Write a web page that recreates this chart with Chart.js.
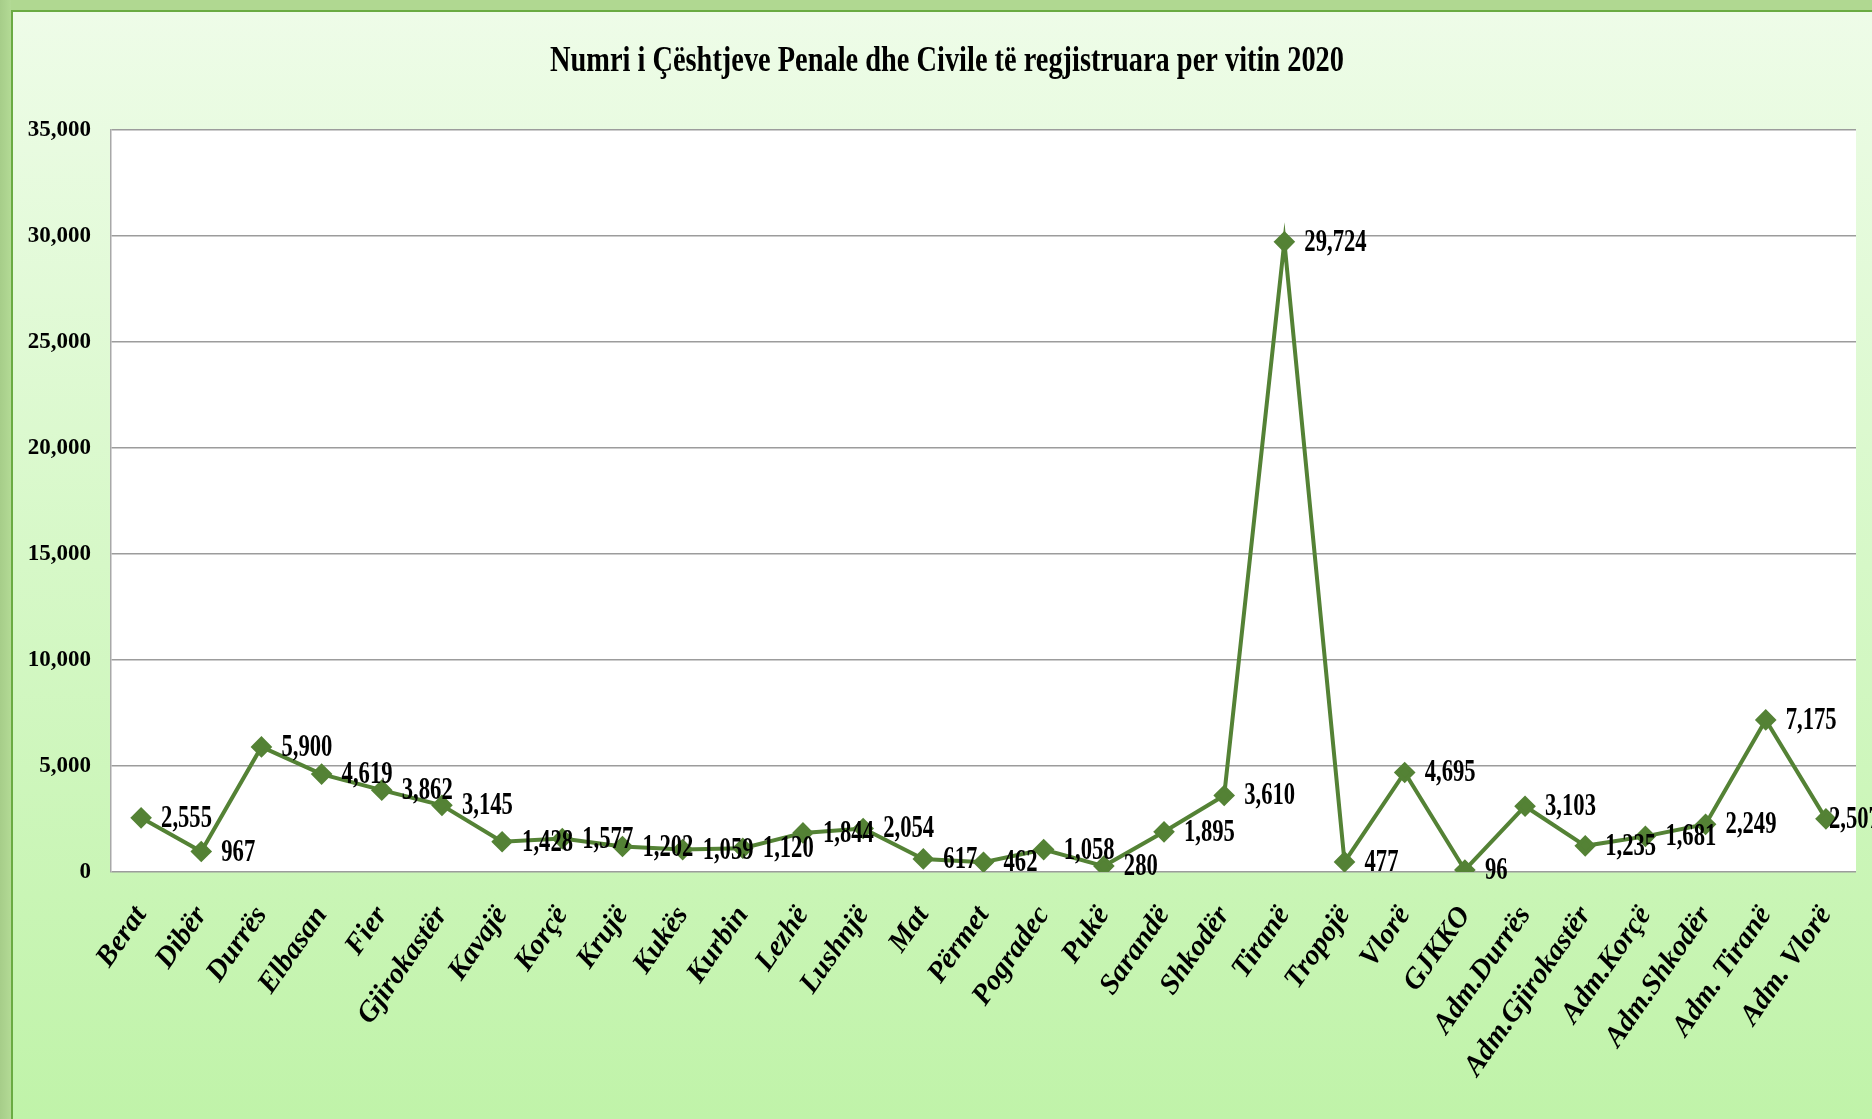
<!DOCTYPE html>
<html>
<head>
<meta charset="utf-8">
<script src="https://cdn.jsdelivr.net/npm/chart.js@4.4.1/dist/chart.umd.min.js"></script>
<style>
    html, body { margin: 0; padding: 0; }
    body {
        width: 1872px;
        height: 1119px;
        overflow: hidden;
        background: linear-gradient(to right, #a6cd89, #b3da95 11px);
        position: relative;
    }
    #frame {
        position: absolute;
        left: 11px;
        top: 0;
        right: 0;
        bottom: 0;
        border-top: 10px solid #b0d891;
        box-sizing: border-box;
    }
    #inner {
        position: absolute;
        left: 0;
        top: 0;
        right: 0;
        bottom: 0;
        border-left: 2px solid #6aab42;
        border-top: 2px solid #6aab42;
        background: linear-gradient(to bottom, #eefce8, #d6f8c7 50%, #c0f3a9);
    }
    #chart-wrap {
        position: absolute;
        left: 0;
        top: 0;
        width: 1872px;
        height: 1119px;
    }
</style>
</head>
<body>
<div id="frame"><div id="inner"></div></div>
<div id="chart-wrap"><canvas id="cases-chart" width="1872" height="1119"></canvas></div>
<script>
const chartTitle = 'Numri i Çështjeve Penale dhe Civile të regjistruara per vitin 2020';

const courts = [
    'Berat', 'Dibër', 'Durrës', 'Elbasan', 'Fier', 'Gjirokastër', 'Kavajë', 'Korçë',
    'Krujë', 'Kukës', 'Kurbin', 'Lezhë', 'Lushnjë', 'Mat', 'Përmet', 'Pogradec',
    'Pukë', 'Sarandë', 'Shkodër', 'Tiranë', 'Tropojë', 'Vlorë', 'GJKKO',
    'Adm.Durrës', 'Adm.Gjirokastër', 'Adm.Korçë', 'Adm.Shkodër', 'Adm. Tiranë', 'Adm. Vlorë'
];

const registeredCases = [
    2555, 967, 5900, 4619, 3862, 3145, 1428, 1577,
    1202, 1059, 1120, 1844, 2054, 617, 462, 1058,
    280, 1895, 3610, 29724, 477, 4695, 96,
    3103, 1235, 1681, 2249, 7175, 2507
];

const yMin = 0;
const yMax = 35000;
const yStep = 5000;

(function () {
    const lineColor = '#548235';
    const serif = '"Liberation Serif", "Times New Roman", serif';

    function formatNumber(v) {
        return Number(v).toLocaleString('en-US');
    }

    // white plot area like the office chart
    const plotBackground = {
        id: 'plotBackground',
        beforeDraw(chart) {
            const a = chart.chartArea;
            const ctx = chart.ctx;
            ctx.save();
            ctx.fillStyle = '#ffffff';
            ctx.fillRect(a.left, a.top, a.right - a.left, a.bottom - a.top);
            ctx.restore();
        }
    };

    // narrow serif title
    const narrowTitle = {
        id: 'narrowTitle',
        afterDraw(chart) {
            const ctx = chart.ctx;
            ctx.save();
            ctx.font = 'bold 36px ' + serif;
            ctx.fillStyle = '#000000';
            ctx.textAlign = 'center';
            ctx.textBaseline = 'middle';
            const w = ctx.measureText(chartTitle).width;
            const sx = 794 / w;
            ctx.translate(947, 62);
            ctx.scale(sx, 1);
            ctx.fillText(chartTitle, 0, 0);
            ctx.restore();
        }
    };

    // value labels to the right of each point, pushed back in at the right edge
    const valueLabels = {
        id: 'valueLabels',
        afterDatasetsDraw(chart) {
            const ctx = chart.ctx;
            const meta = chart.getDatasetMeta(0);
            const values = chart.data.datasets[0].data;
            ctx.save();
            ctx.font = 'bold 31px ' + serif;
            ctx.fillStyle = '#000000';
            ctx.textAlign = 'left';
            ctx.textBaseline = 'middle';
            meta.data.forEach((pt, i) => {
                var x = Math.min(pt.x + 20, chart.width - 43);
                ctx.save();
                ctx.translate(x, pt.y + 1);
                ctx.scale(0.73, 1);
                ctx.fillText(formatNumber(values[i]), 0, 0);
                ctx.restore();
            });
            ctx.restore();
        }
    };

    function init() {
        const config = {
            type: 'line',
            data: {
                labels: courts,
                datasets: [{
                    label: 'Çështje',
                    data: registeredCases,
                    borderColor: lineColor,
                    backgroundColor: lineColor,
                    borderWidth: 4,
                    pointStyle: 'rectRot',
                    pointRadius: 8,
                    pointHoverRadius: 8,
                    pointBackgroundColor: lineColor,
                    pointBorderColor: lineColor,
                    tension: 0
                }]
            },
            options: {
                responsive: false,
                animation: false,
                layout: {
                    padding: { left: 0, top: 130, right: 16, bottom: 0 }
                },
                plugins: {
                    legend: { display: false },
                    title: { display: false },
                    tooltip: { enabled: false }
                },
                scales: {
                    x: {
                        offset: true,
                        grid: { display: false, drawTicks: false },
                        border: { display: false },
                        ticks: {
                            autoSkip: false,
                            minRotation: 55,
                            maxRotation: 55,
                            padding: 28,
                            color: '#000000',
                            font: { family: serif, size: 29, weight: 'bold', style: 'italic' }
                        },
                        afterFit: function (scale) {
                            scale.height = 247;
                            scale.paddingLeft = 0;
                            scale.paddingRight = 0;
                        }
                    },
                    y: {
                        min: yMin,
                        max: yMax,
                        grid: { color: '#9c9c9c', lineWidth: 1.5, drawTicks: false },
                        border: { display: true, color: '#a8a8a8', width: 1.5 },
                        ticks: {
                            stepSize: yStep,
                            padding: 20,
                            color: '#000000',
                            font: { family: serif, size: 23, weight: 'bold' },
                            callback: formatNumber
                        },
                        afterFit: function (scale) { scale.width = 111; }
                    }
                }
            },
            plugins: [plotBackground, valueLabels, narrowTitle]
        };

        new Chart(document.getElementById('cases-chart'), config);
    }

    init();
}());
</script>
</body>
</html>
